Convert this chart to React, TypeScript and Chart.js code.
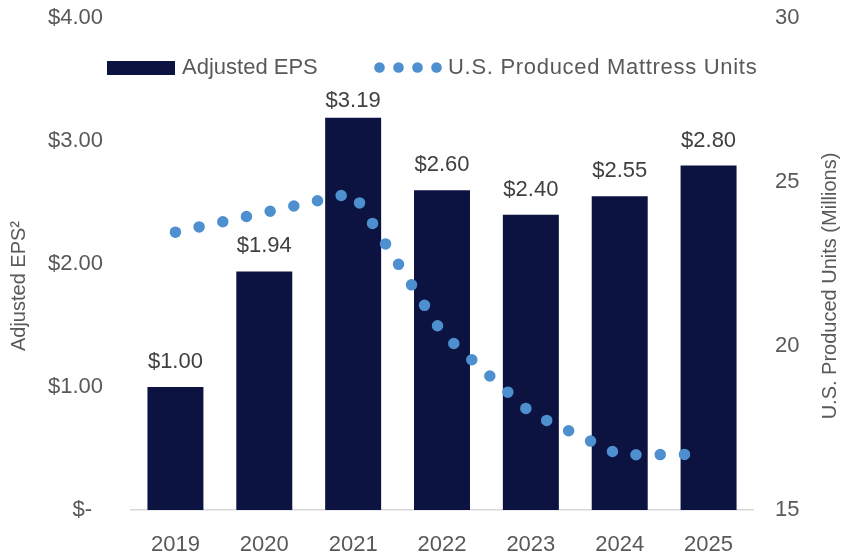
import React, { useEffect, useRef } from 'react';
import { Chart, registerables } from 'chart.js';

Chart.register(...registerables);

const years = ['2019', '2020', '2021', '2022', '2023', '2024', '2025'];
const adjustedEps = [1.0, 1.94, 3.19, 2.6, 2.4, 2.55, 2.8];
const epsLabels = ['$1.00', '$1.94', '$3.19', '$2.60', '$2.40', '$2.55', '$2.80'];
const mattressUnits = [23.47, 24.07, 24.67, 20.4, 17.96, 16.68, 16.7];
const legendLabels = ['Adjusted EPS', 'U.S. Produced Mattress Units'];
const leftTitle = 'Adjusted EPS²';
const rightTitle = 'U.S. Produced Units (Millions)';

const NAVY = '#0C1340';
const DOT = '#4D8FCF';
const GREY = '#595959';
const FONT = "'Liberation Sans', Arial, sans-serif";

const decorPlugin = {
  id: 'decor',
  afterDatasetsDraw(chart: any) {
    const ctx = chart.ctx;
    ctx.save();
    const meta = chart.getDatasetMeta(1);
    ctx.font = `22px ${FONT}`;
    ctx.fillStyle = '#404040';
    ctx.textAlign = 'center';
    ctx.textBaseline = 'alphabetic';
    meta.data.forEach((el: any, i: number) => {
      const y = Math.max(el.y - 19, 106.5);
      ctx.fillText(epsLabels[i], el.x, y);
    });
    ctx.restore();
  },
  afterDraw(chart: any) {
    const ctx = chart.ctx;
    ctx.save();
    ctx.fillStyle = NAVY;
    ctx.fillRect(107, 61, 68, 14);
    ctx.fillStyle = GREY;
    ctx.font = `22px ${FONT}`;
    ctx.textAlign = 'left';
    ctx.textBaseline = 'alphabetic';
    ctx.fillText(legendLabels[0], 182, 74);
    ctx.fillStyle = DOT;
    for (let i = 0; i < 4; i++) {
      ctx.beginPath();
      ctx.arc(379.5 + 19 * i, 67.5, 5.3, 0, Math.PI * 2);
      ctx.fill();
    }
    ctx.fillStyle = GREY;
    (ctx as any).letterSpacing = '0.7px';
    ctx.fillText(legendLabels[1], 448, 74);
    (ctx as any).letterSpacing = '0px';
    ctx.font = `20px ${FONT}`;
    ctx.textAlign = 'center';
    ctx.save();
    ctx.translate(25, 286);
    ctx.rotate(-Math.PI / 2);
    ctx.fillText(leftTitle, 0, 0);
    ctx.restore();
    ctx.save();
    ctx.translate(836, 286);
    ctx.rotate(-Math.PI / 2);
    ctx.fillText(rightTitle, 0, 0);
    ctx.restore();
    ctx.restore();
  },
};

export default function App() {
  const ref = useRef<HTMLCanvasElement | null>(null);
  useEffect(() => {
    if (!ref.current) return;
    const chart = new Chart(ref.current, {
      type: 'bar',
      data: {
        labels: years,
        datasets: [
          {
            type: 'line',
            label: legendLabels[1],
            data: mattressUnits,
            yAxisID: 'y1',
            borderColor: DOT,
            backgroundColor: DOT,
            borderWidth: 11.5,
            borderDash: [0, 24.25],
            borderCapStyle: 'round',
            borderJoinStyle: 'round',
            pointRadius: 0,
            fill: false,
            tension: 0,
            order: 0,
          } as any,
          {
            type: 'bar',
            label: legendLabels[0],
            data: adjustedEps,
            yAxisID: 'y',
            backgroundColor: NAVY,
            barPercentage: 0.63,
            categoryPercentage: 1,
            order: 1,
          },
        ],
      },
      options: {
        animation: false,
        responsive: false,
        maintainAspectRatio: false,
        layout: { padding: { top: 18, left: 0, right: 0, bottom: 0 }, autoPadding: false } as any,
        plugins: { legend: { display: false }, tooltip: { enabled: false } },
        scales: {
          x: {
            grid: { display: false, drawTicks: false },
            border: { display: true, color: '#D9D9D9', width: 1.5 },
            ticks: { color: GREY, font: { family: FONT, size: 22 }, padding: 22 },
            afterFit: (s: any) => {
              s.height = 45;
              s.paddingLeft = 0;
              s.paddingRight = 0;
            },
          },
          y: {
            position: 'left',
            min: 0,
            max: 4,
            grid: { display: false, drawTicks: false },
            border: { display: false },
            ticks: {
              stepSize: 1,
              padding: 28,
              color: GREY,
              font: { family: FONT, size: 22 },
              callback: (v: any) => (Number(v) === 0 ? '$-\u2002' : '$' + Number(v).toFixed(2)),
            },
            afterFit: (s: any) => {
              s.width = 131;
              s.paddingTop = 0;
              s.paddingBottom = 0;
            },
          },
          y1: {
            position: 'right',
            min: 15,
            max: 30,
            grid: { display: false, drawTicks: false },
            border: { display: false },
            ticks: {
              stepSize: 5,
              padding: 22,
              color: GREY,
              font: { family: FONT, size: 22 },
            },
            afterFit: (s: any) => {
              s.width = 89;
              s.paddingTop = 0;
              s.paddingBottom = 0;
            },
          },
        } as any,
      },
      plugins: [decorPlugin],
    });
    return () => chart.destroy();
  }, []);
  return (
    <div style={{ position: 'fixed', left: 0, top: 0, width: 842, height: 555, background: '#fff' }}>
      <canvas ref={ref} width={842} height={555} style={{ width: 842, height: 555, display: 'block' }} />
    </div>
  );
}
